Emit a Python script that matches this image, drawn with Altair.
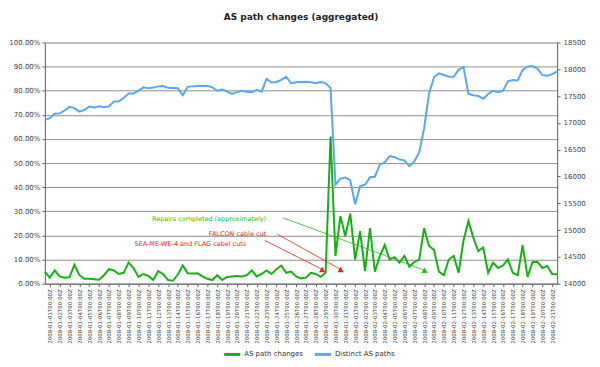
import altair as alt
import pandas as pd

# ---------------- data ----------------
series_names = ["AS path changes", "Distinct AS paths"]
series_colors = ["#16b016", "#5aa6f5"]

# half-day samples from 2007-12-31T12:00Z to 2008-02-21T12:00Z
times = [t.strftime("%Y-%m-%dT%H:%M:%SZ")
         for t in pd.date_range("2007-12-31 12:00", periods=105, freq="12h")]

# AS path changes (percent)
changes = [5.0, 2.5, 5.5, 3.0, 2.5, 2.7, 7.8, 3.5, 2.0, 2.0,
           1.8, 1.6, 3.5, 6.0, 5.5, 4.0, 4.5, 8.8, 6.5, 2.8,
           4.0, 3.2, 1.5, 5.2, 4.0, 1.5, 1.2, 3.8, 7.5, 4.3,
           4.2, 4.3, 3.0, 2.0, 1.5, 3.5, 1.5, 2.8, 3.0, 3.2,
           3.0, 3.5, 5.5, 3.0, 4.0, 5.5, 4.0, 6.0, 7.5, 4.5,
           5.0, 3.0, 2.2, 2.5, 4.5, 4.0, 2.8, 4.5, 61.0, 11.5,
           28.0, 19.7, 29.0, 10.0, 21.8, 5.2, 23.0, 5.0, 11.4, 16.0,
           10.0, 11.0, 8.7, 11.5, 7.0, 9.0, 10.0, 23.0, 15.6, 14.0,
           5.0, 3.5, 10.0, 11.5, 4.5, 18.0, 26.0, 19.0, 13.5, 15.0,
           4.5, 8.7, 6.5, 7.5, 10.0, 4.5, 3.5, 16.0, 2.8, 9.0,
           9.0, 6.5, 7.3, 4.0, 3.9]

# Distinct AS paths (count)
paths = [17056, 17087, 17172, 17177, 17231, 17299, 17276, 17209, 17240, 17303,
         17285, 17308, 17294, 17308, 17398, 17402, 17465, 17550, 17546, 17600,
         17663, 17645, 17658, 17681, 17686, 17654, 17650, 17645, 17515, 17672,
         17681, 17690, 17690, 17690, 17663, 17600, 17622, 17582, 17541, 17573,
         17600, 17582, 17570, 17618, 17582, 17820, 17753, 17762, 17802, 17861,
         17735, 17757, 17762, 17768, 17758, 17740, 17760, 17737, 17650, 15847,
         15960, 15980, 15930, 15480, 15820, 15845, 15985, 15995, 16220, 16262,
         16380, 16360, 16315, 16300, 16190, 16280, 16450, 16900, 17550, 17850,
         17923, 17892, 17860, 17861, 17990, 18040, 17540, 17515, 17502, 17450,
         17540, 17600, 17572, 17600, 17775, 17799, 17790, 17990, 18050, 18060,
         18010, 17890, 17880, 17910, 17960]

# annotations (data units)
ann_labels = ["Repairs completed (approximately)", "FALCON cable cut",
              "SEA-ME-WE-4 and FLAG cabel cuts"]
ann_colors = ["#22bb22", "#ee2222", "#ee2222"]
ann_text_t = ["2008-01-22T23:00:00Z", "2008-01-22T23:00:00Z", "2008-01-20T22:30:00Z"]
ann_text_y = [0.269, 0.205, 0.165]
ann_from_t = ["2008-01-24T16:20:00Z", "2008-01-24T02:24:00Z", "2008-01-22T20:00:00Z"]
ann_from_y = [0.273, 0.205, 0.179]
ann_to_t = ["2008-02-08T01:00:00Z", "2008-01-30T12:30:00Z", "2008-01-28T15:36:00Z"]
ann_to_y = [0.056, 0.059, 0.059]

tick_days = [(1, d) for d in range(1, 32)] + [(2, d) for d in range(1, 22)]

# ---------------- chart ----------------
df = pd.DataFrame({"t": times, "changes": [v / 100 for v in changes], "paths": paths})
ann = pd.DataFrame({"label": ann_labels, "c": ann_colors, "tt": ann_text_t, "ty": ann_text_y,
                    "ft": ann_from_t, "fy": ann_from_y, "et": ann_to_t, "ey": ann_to_y})

FONT = "DejaVu Sans"
x_scale = alt.Scale(type="utc",
                    domain=[alt.DateTime(year=2007, month=12, date=31, hours=12, utc=True),
                            alt.DateTime(year=2008, month=2, date=21, hours=12, utc=True)])
x_axis = alt.Axis(values=[alt.DateTime(year=2008, month=m, date=d, utc=True) for m, d in tick_days],
                  labelExpr="utcFormat(datum.value, '%Y-%m-%dT%H:%MZ')",
                  labelAngle=270, labelFontSize=5.5, labelFont=FONT, labelColor="#444444",
                  labelFlush=False, labelOverlap=False, labelBound=False,
                  tickSize=3, tickColor="#666666", domainColor="#666666",
                  labelPadding=2, grid=False)
y_left_scale = alt.Scale(domain=[0, 1])
y_left_axis = alt.Axis(values=[i / 10 for i in range(11)], format=".2%",
                       labelFontSize=7, labelFont=FONT, labelColor="#444444",
                       tickSize=3, tickColor="#666666", domainColor="#666666",
                       labelPadding=2, grid=True, gridColor="#8f8f8f", gridWidth=1,
                       labelOverlap=False)

color_scale = alt.Scale(domain=series_names, range=series_colors)
legend = alt.Legend(orient="none", legendX=178, legendY=303, direction="horizontal",
                    title=None, symbolType="stroke", symbolStrokeWidth=3, symbolSize=260,
                    labelFontSize=7, labelFont=FONT, labelColor="#333333",
                    columnPadding=4, labelOffset=2)

base = alt.Chart(df)

green = base.mark_line(strokeWidth=2).transform_calculate(
    series=f"'{series_names[0]}'"
).encode(
    x=alt.X("t:T", scale=x_scale, axis=x_axis, title=None),
    y=alt.Y("changes:Q", scale=y_left_scale, axis=y_left_axis, title=None),
    color=alt.Color("series:N", scale=color_scale, legend=legend),
)

abase = alt.Chart(ann)
rules = abase.mark_rule(strokeWidth=0.8).encode(
    x=alt.X("ft:T", scale=x_scale, axis=x_axis, title=None),
    x2="et:T",
    y=alt.Y("fy:Q", scale=y_left_scale, axis=y_left_axis, title=None),
    y2="ey:Q",
    stroke=alt.Stroke("c:N", scale=None),
)
tris = abase.mark_point(shape="triangle-up", filled=True, size=40, opacity=1).encode(
    x=alt.X("et:T", scale=x_scale, axis=x_axis, title=None),
    y=alt.Y("ey:Q", scale=y_left_scale, axis=y_left_axis, title=None),
    fill=alt.Fill("c:N", scale=None),
)
texts = abase.mark_text(align="right", baseline="middle", fontSize=6.5, font=FONT).encode(
    x=alt.X("tt:T", scale=x_scale, axis=x_axis, title=None),
    y=alt.Y("ty:Q", scale=y_left_scale, axis=y_left_axis, title=None),
    text="label:N",
    fill=alt.Fill("c:N", scale=None),
)

blue = base.mark_line(strokeWidth=2).transform_calculate(
    series=f"'{series_names[1]}'"
).encode(
    x=alt.X("t:T", scale=x_scale, axis=x_axis, title=None),
    y=alt.Y("paths:Q", scale=alt.Scale(domain=[14000, 18500]),
            axis=alt.Axis(orient="right", values=list(range(14000, 18501, 500)), grid=False,
                          labelFontSize=7, labelFont=FONT, labelColor="#444444",
                          tickSize=3, tickColor="#666666", domainColor="#666666",
                          labelPadding=3, format="d", labelOverlap=False),
            title=None),
    color=alt.Color("series:N", scale=color_scale, legend=legend),
)

left = alt.layer(green, rules, tris, texts)
chart = alt.layer(left, blue).resolve_scale(y="independent").properties(
    width=514, height=242,
    autosize=alt.AutoSizeParams(type="none"),
    padding={"left": 37, "top": 34, "right": 35, "bottom": 75},
    title=alt.Title("AS path changes (aggregated)", fontSize=9, font=FONT,
                    fontWeight="bold", color="#222222", offset=17),
).configure_view(fill="#cccccc", stroke="#777777", strokeWidth=1
).configure(background="white")

chart.save("out.html", embed_options={"renderer": "svg", "actions": False})
